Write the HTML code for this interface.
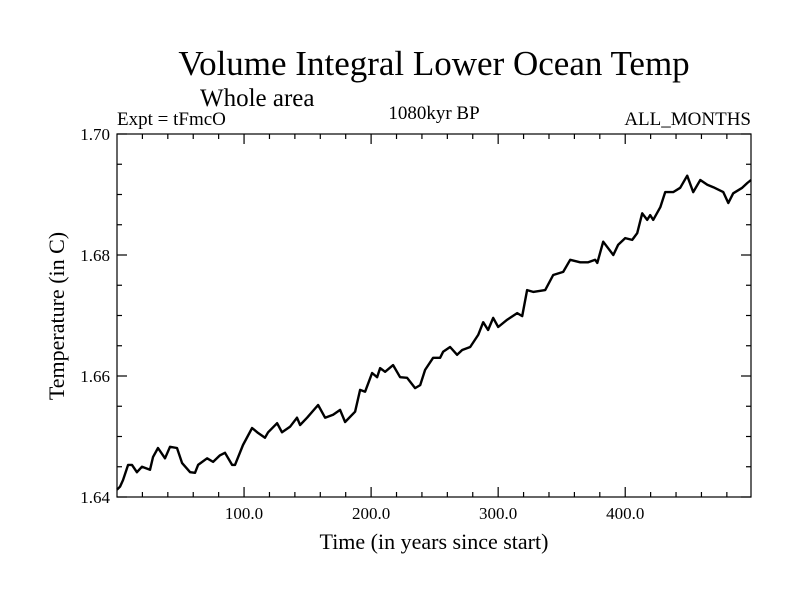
<!DOCTYPE html>
<html><head><meta charset="utf-8"><style>
body{margin:0;background:#fff;}
svg text{font-family:"Liberation Serif",serif;fill:#000;}
</style></head><body>
<svg id="chart" width="800" height="600">
<text x="434" y="75" font-size="35" text-anchor="middle">Volume Integral Lower Ocean Temp</text>
<text x="200" y="106" font-size="25">Whole area</text>
<text x="117" y="125" font-size="19">Expt = tFmcO</text>
<text x="434" y="119" font-size="19" text-anchor="middle">1080kyr BP</text>
<text x="751" y="125" font-size="19" text-anchor="end">ALL_MONTHS</text>
<text x="434" y="549" font-size="22" text-anchor="middle">Time (in years since start)</text>
<text transform="translate(64,316) rotate(-90)" font-size="22" text-anchor="middle">Temperature (in C)</text>
<rect x="117" y="134" width="634" height="363" fill="none" stroke="#000" stroke-width="1.2"/>
<g id="ticks"></g>
<path id="line" fill="none" stroke="#000" stroke-width="2.4" stroke-linejoin="round"/>
</svg>
<script>
const years=[0,2.4,4.7,8.7,11.8,15.7,19.7,26,28.3,32.3,37.8,41.7,47.2,51.2,57.5,61.4,63.8,70.9,75.6,81.1,85,90.6,92.9,99.2,106.3,111,116.5,118.9,126,129.9,136.2,141.7,144.1,149.6,158.3,163.8,170.1,175.6,179.5,187.4,191.3,195.3,200.8,204.7,207.1,211,217.3,222.8,228.3,234.6,238.6,242.5,248.8,254.3,256.7,262.2,267.7,271.7,278,284.3,288.2,292.1,296.1,300,307.1,315,318.9,322.8,327.6,337,343.3,351.2,356.7,364.6,370.9,376.4,378,382.7,390.6,394.5,400,405.5,409.4,413.4,417.3,419.7,422,427.6,431.5,437.8,443.3,448.8,453.5,459.1,464.6,469.3,477.2,481.1,485,492.1,496.1,499];
const temps=[1.6412,1.6417,1.6428,1.6453,1.6453,1.6441,1.6450,1.6445,1.6466,1.6481,1.6464,1.6483,1.6481,1.6456,1.6441,1.6440,1.6453,1.6464,1.6458,1.6469,1.6473,1.6453,1.6453,1.6486,1.6514,1.6506,1.6498,1.6507,1.6522,1.6507,1.6516,1.6531,1.6519,1.6531,1.6552,1.6531,1.6536,1.6544,1.6524,1.6541,1.6577,1.6574,1.6605,1.6598,1.6613,1.6607,1.6618,1.6598,1.6597,1.6580,1.6585,1.6610,1.6630,1.6630,1.6640,1.6648,1.6635,1.6643,1.6648,1.6668,1.6689,1.6676,1.6696,1.6681,1.6693,1.6704,1.6699,1.6742,1.6739,1.6742,1.6767,1.6772,1.6792,1.6788,1.6788,1.6792,1.6787,1.6822,1.6800,1.6817,1.6828,1.6825,1.6836,1.6869,1.6858,1.6866,1.6858,1.6879,1.6904,1.6904,1.6911,1.6931,1.6904,1.6924,1.6916,1.6912,1.6904,1.6886,1.6902,1.6911,1.6919,1.6924];
const xTicks=[100,200,300,400];
const xTickLabels=["100.0","200.0","300.0","400.0"];
const yTicks=[1.64,1.66,1.68,1.70];
const yTickLabels=["1.64","1.66","1.68","1.70"];
const X0=117,X1=751,Y0=497,Y1=134;
const xs=v=>X0+(v-0)/(499-0)*(X1-X0);
const ys=v=>Y0-(v-1.64)/(0.06)*(Y0-Y1);
const NS="http://www.w3.org/2000/svg";
const g=document.getElementById('ticks');
function ln(x1,y1,x2,y2,name){const l=document.createElementNS(NS,'line');l.setAttribute('x1',x1);l.setAttribute('y1',y1);l.setAttribute('x2',x2);l.setAttribute('y2',y2);l.setAttribute('stroke','#000');l.setAttribute('stroke-width','1.2');


g.appendChild(l);}
function tx(x,y,s,anchor,name){const t=document.createElementNS(NS,'text');t.setAttribute('x',x);t.setAttribute('y',y);t.setAttribute('font-size','17');t.setAttribute('text-anchor',anchor);t.textContent=s;


g.appendChild(t);}
for(let v=20;v<499;v+=20){const x=xs(v);const L=(v%100===0)?10:5;ln(x,Y0,x,Y0-L,'x-tick');ln(x,Y1,x,Y1+L,'x-tick-top');}
for(let i=0;i<=12;i++){const v=1.64+i*0.005;const y=ys(v);const L=(i%4===0)?10:5;ln(X0,y,X0+L,y,'y-tick');ln(X1,y,X1-L,y,'y-tick-right');}
xTicks.forEach((v,i)=>tx(xs(v),Y0+22,xTickLabels[i],'middle','x-tick-label'));
yTicks.forEach((v,i)=>tx(X0-7,ys(v)+6,yTickLabels[i],'end','y-tick-label'));
document.getElementById('line').setAttribute('d',years.map((v,i)=>(i?'L':'M')+xs(v).toFixed(1)+','+ys(temps[i]).toFixed(1)).join(''));
</script>
</body></html>
